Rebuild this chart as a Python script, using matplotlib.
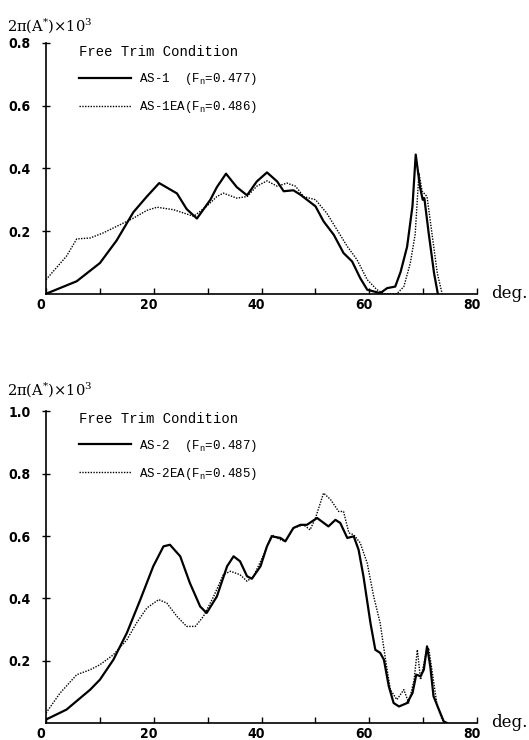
import matplotlib
matplotlib.use("Agg")

import matplotlib.pyplot as plt
import matplotlib.transforms as mtransforms

# ---------------------------------------------------------------------------
# Digitised curves (angle in deg, 2*pi*A* x 1e3)
# ---------------------------------------------------------------------------

AS1_X = [0, 5.7, 10, 13.1, 16.2, 18.7, 21, 24.3, 26.1, 28, 30.5, 31.7, 33.4,
         35.4, 37.3, 39.1, 41, 42.9, 44.1, 45.9, 47.2, 50, 51.5, 53.4, 55.2,
         56.8, 58.3, 59.6, 62, 63.3, 64.8, 65.8, 67, 68, 68.6, 69.4, 69.9,
         70.2, 71, 72, 72.7]
AS1_Y = [0, 0.04, 0.098, 0.17, 0.26, 0.31, 0.353, 0.32, 0.27, 0.24, 0.30,
         0.34, 0.383, 0.34, 0.314, 0.358, 0.387, 0.358, 0.327, 0.33, 0.316,
         0.279, 0.231, 0.188, 0.13, 0.103, 0.05, 0.013, 0.002, 0.018, 0.023,
         0.07, 0.15, 0.28, 0.444, 0.34, 0.30, 0.305, 0.194, 0.066, 0]

AS1EA_X = [0, 3.8, 5.7, 8.2, 10.6, 13.1, 16.2, 18.7, 20.6, 23.7, 27.4, 29.8,
           31.7, 32.9, 35.4, 37.3, 39.1, 41, 42.9, 44.7, 46.3, 47.8, 50, 52.1,
           54, 55.9, 57.7, 59.6, 61.4, 62.7, 65.1, 66.4, 67.6, 68.5, 69.2,
           69.8, 70.7, 71.6, 72.6, 73.5]
AS1EA_Y = [0.045, 0.12, 0.175, 0.178, 0.194, 0.215, 0.241, 0.266, 0.276,
           0.268, 0.247, 0.279, 0.31, 0.321, 0.305, 0.31, 0.343, 0.36, 0.343,
           0.353, 0.343, 0.31, 0.30, 0.257, 0.204, 0.151, 0.109, 0.045, 0.013,
           0, 0, 0.023, 0.098, 0.19, 0.385, 0.327, 0.31, 0.194, 0.066, 0]

AS2_X = [0, 3.8, 8.2, 10, 12.5, 15, 17.5, 19.9, 21.8, 23, 24.9, 26.7, 28.6,
         29.8, 31.7, 33.6, 34.8, 36, 37.3, 38.2, 39.8, 41, 41.9, 43.5, 44.4,
         45.9, 47.2, 48.4, 50.3, 52.4, 53.7, 54.6, 55.9, 57.1, 58, 58.9, 60.2,
         61.1, 62, 62.7, 63.6, 64.5, 65.5, 67, 68, 68.7, 69.5, 70.1, 70.7,
         71.3, 71.9, 72.9, 73.8, 74.4]
AS2_Y = [0.011, 0.043, 0.107, 0.139, 0.203, 0.289, 0.396, 0.503, 0.567,
         0.572, 0.535, 0.449, 0.374, 0.353, 0.406, 0.503, 0.535, 0.519, 0.471,
         0.463, 0.503, 0.567, 0.599, 0.594, 0.583, 0.626, 0.636, 0.636, 0.658,
         0.631, 0.652, 0.642, 0.594, 0.599, 0.556, 0.471, 0.321, 0.235, 0.225,
         0.203, 0.118, 0.064, 0.053, 0.064, 0.096, 0.155, 0.15, 0.171, 0.246,
         0.182, 0.086, 0.043, 0.005, 0]

AS2EA_X = [0, 2.6, 5.7, 8.2, 10, 12.5, 15, 16.8, 18.7, 20.9, 22.4, 24.3, 26.1,
           27.7, 29.2, 31.1, 32.9, 34.2, 36, 37.3, 38.5, 40.4, 41.9, 43.5,
           44.4, 45.9, 47.8, 49, 50, 51.5, 52.8, 54.3, 55.2, 56.2, 57.1, 58.3,
           59.6, 60.8, 62, 63, 63.9, 65.1, 66.4, 67.3, 68.3, 68.9, 69.5, 70.4,
           71, 71.6, 72.6, 73.5, 74.1]
AS2EA_Y = [0.032, 0.096, 0.155, 0.171, 0.187, 0.219, 0.267, 0.321, 0.369,
           0.396, 0.385, 0.342, 0.31, 0.31, 0.342, 0.406, 0.476, 0.487, 0.476,
           0.455, 0.471, 0.54, 0.604, 0.588, 0.583, 0.626, 0.636, 0.62, 0.658,
           0.738, 0.717, 0.679, 0.679, 0.61, 0.604, 0.578, 0.513, 0.406, 0.321,
           0.203, 0.107, 0.075, 0.107, 0.064, 0.139, 0.235, 0.139, 0.214,
           0.241, 0.171, 0.053, 0.011, 0]

PANELS = [
    dict(ymax=0.8, yticks=[0.2, 0.4, 0.6, 0.8],
         solid=(AS1_X, AS1_Y, "AS-1  (F$_n$=0.477)"),
         dotted=(AS1EA_X, AS1EA_Y, "AS-1EA(F$_n$=0.486)")),
    dict(ymax=1.0, yticks=[0.2, 0.4, 0.6, 0.8, 1.0],
         solid=(AS2_X, AS2_Y, "AS-2  (F$_n$=0.487)"),
         dotted=(AS2EA_X, AS2EA_Y, "AS-2EA(F$_n$=0.485)")),
]

XTICKS = [0, 20, 40, 60, 80]
XMINOR = [10, 30, 50, 70]

plt.rcParams["mathtext.default"] = "regular"

TICK_FONT = dict(family="DejaVu Sans", stretch="condensed", weight="bold",
                 size=10)
MONO = "Liberation Mono"

fig = plt.figure(figsize=(5.29, 7.40), dpi=100)
# axes rectangles in figure fractions
RECTS = [(0.087, 0.603, 0.815, 0.339), (0.087, 0.023, 0.815, 0.421)]


def draw_panel(ax, p):
    sx, sy, slab = p["solid"]
    dx, dy, dlab = p["dotted"]
    h1, = ax.plot(sx, sy, color="black", lw=1.6)
    h2, = ax.plot(dx, dy, color="black", lw=1.0, linestyle=(0, (1, 1)))

    ax.set_xlim(0, 80)
    ax.set_ylim(0, p["ymax"])
    for side in ("top", "right"):
        ax.spines[side].set_visible(False)
    ax.spines["left"].set_linewidth(1.2)
    ax.spines["bottom"].set_linewidth(1.2)

    ax.set_xticks(XTICKS)
    ax.set_xticks(XMINOR, minor=True)
    ax.set_yticks(p["yticks"])
    ax.set_yticklabels([f"{v:.1f}" for v in p["yticks"]], fontdict=TICK_FONT)
    ax.set_xticklabels([str(v) for v in XTICKS], fontdict=TICK_FONT)
    ax.tick_params(axis="x", which="both", direction="in", length=4,
                   width=1, pad=3)
    ax.tick_params(axis="y", direction="inout", length=6, width=1, pad=8)
    # labels in the scan sit a little left of their ticks
    shift = mtransforms.ScaledTranslation(-4 / 72, 0, fig.dpi_scale_trans)
    for lab in ax.get_xticklabels():
        lab.set_transform(lab.get_transform() + shift)

    ax.text(82.5, 0, "deg.", fontsize=12, family="DejaVu Serif",
            ha="left", va="center")
    ax.text(-0.09, 1.07, r"2$\pi$(A$^{*}$)$\times$10$^3$",
            transform=ax.transAxes, fontsize=10.5, family="DejaVu Serif",
            ha="left", va="center")

    leg = ax.legend([h1, h2], [slab, dlab], title="Free Trim Condition",
                    loc="upper left", bbox_to_anchor=(0.05, 1.035),
                    frameon=False, handlelength=4.2, handletextpad=0.6,
                    labelspacing=0.95, alignment="left",
                    prop=dict(family=MONO, size=9))
    leg.get_title().set_family(MONO)
    leg.get_title().set_size(10)


for rect, p in zip(RECTS, PANELS):
    ax = fig.add_axes(rect)
    draw_panel(ax, p)

fig.savefig("out.png", dpi=100)
